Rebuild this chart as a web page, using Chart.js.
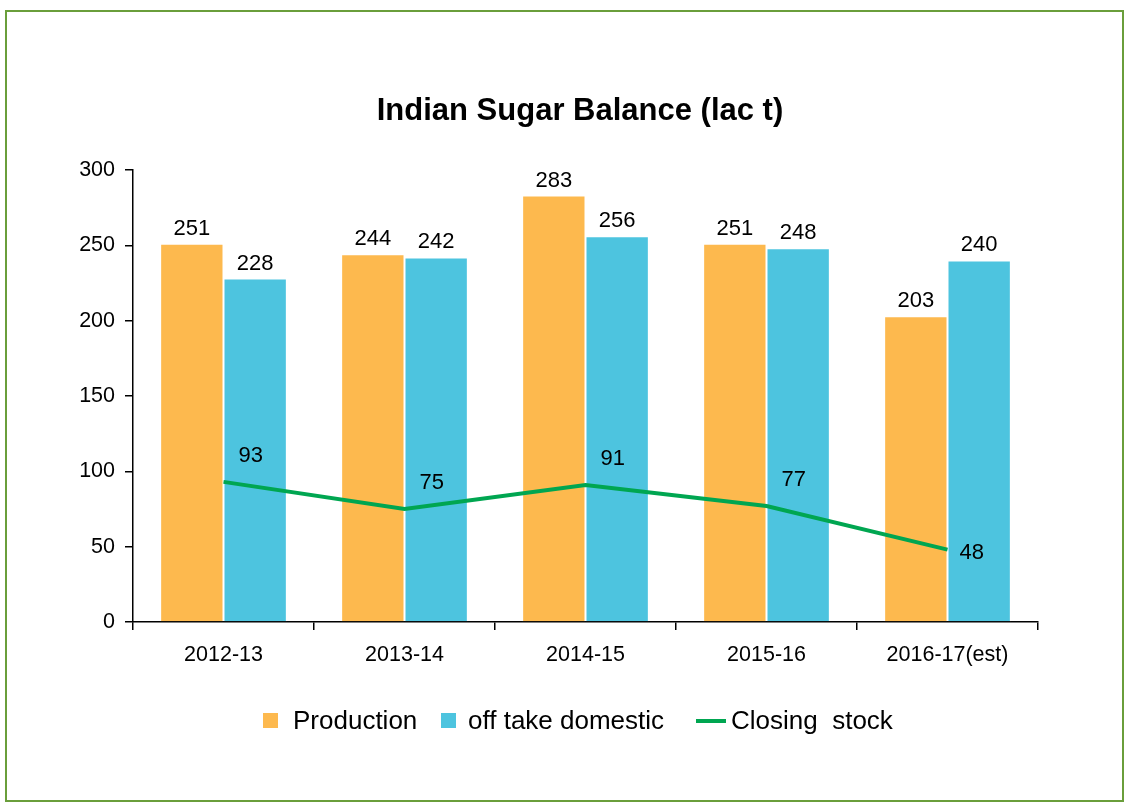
<!DOCTYPE html>
<html>
<head>
<meta charset="utf-8">
<script src="https://cdn.jsdelivr.net/npm/chart.js@4"></script>
<style>
  html, body { margin: 0; padding: 0; background: #fff; }
  #wrap { position: relative; width: 1129px; height: 807px; }
  #frame { position: absolute; left: 5px; top: 10px; width: 1115px; height: 788px; border: 2px solid #6a9e3b; pointer-events: none; }
  #legend { position: absolute; left: 0; width: 1129px; top: 702px; height: 36px; font-family: "Liberation Sans", Arial, sans-serif; font-size: 26px; color: #000; }
  #legend span.item { position: absolute; top: 0; white-space: pre; line-height: 36px; }
  #legend i { position: absolute; }
</style>
</head>
<body>
<div id="wrap">
  <canvas id="c" width="1129" height="807"></canvas>
  <div id="frame"></div>
  <div id="legend"></div>
</div>
<script>
const categories = ["2012-13", "2013-14", "2014-15", "2015-16", "2016-17(est)"];
const production = [251, 244, 283, 251, 203];
const offtake = [228, 242, 256, 248, 240];
const closing = [93, 75, 91, 77, 48];
const yTicks = [0, 50, 100, 150, 200, 250, 300];

const ORANGE = "#fdb94e", BLUE = "#4dc4df", GREEN = "#00a651";
const FONT = "'Liberation Sans', Arial, sans-serif";

// title drawn a little right of the plot centre, as in the original
const titlePlugin = {
  id: "titlePlugin",
  afterDraw(chart) {
    const ctx = chart.ctx;
    ctx.save();
    ctx.fillStyle = "#000";
    ctx.font = "bold 31px " + FONT;
    ctx.textAlign = "center";
    ctx.textBaseline = "middle";
    ctx.fillText("Indian Sugar Balance (lac t)", 580, 111);
    ctx.restore();
  }
};

// value labels above bars, beside the line points
const valueLabels = {
  id: "valueLabels",
  afterDatasetsDraw(chart) {
    const ctx = chart.ctx;
    ctx.save();
    ctx.fillStyle = "#000";
    ctx.font = "22px " + FONT;
    chart.data.datasets.forEach((ds, i) => {
      const meta = chart.getDatasetMeta(i);
      meta.data.forEach((el, j) => {
        const v = ds.data[j];
        if (ds.type === "line") {
          const last = j === ds.data.length - 1;
          ctx.textAlign = "left";
          ctx.textBaseline = "middle";
          ctx.fillText(v, el.x + (last ? 12 : 15), el.y + (last ? 3 : -26));
        } else {
          ctx.textAlign = "center";
          ctx.textBaseline = "bottom";
          ctx.fillText(v, el.x, el.y - 4);
        }
      });
    });
    ctx.restore();
  }
};

new Chart(document.getElementById("c"), {
  type: "bar",
  data: {
    labels: categories,
    datasets: [
      { type: "line", label: "Closing  stock", data: closing, borderColor: GREEN, backgroundColor: GREEN,
        borderWidth: 4, pointRadius: 0, tension: 0, order: 0 },
      { label: "Production", data: production, backgroundColor: ORANGE, borderColor: "rgba(255,255,255,0.6)", borderWidth: 1, order: 1 },
      { label: "off take domestic", data: offtake, backgroundColor: BLUE, borderColor: "rgba(255,255,255,0.6)", borderWidth: 1, order: 1 }
    ]
  },
  options: {
    responsive: false,
    animation: false,
    datasets: { bar: { categoryPercentage: 0.7, barPercentage: 1 } },
    layout: { padding: { left: 0, right: 91, top: 170, bottom: 125 } },
    plugins: {
      legend: { display: false },
      tooltip: { enabled: false },
      title: { display: false }
    },
    scales: {
      x: {
        grid: { offset: true, drawOnChartArea: false, drawTicks: true, tickLength: 8, color: "#000", lineWidth: 1.5 },
        border: { color: "#000", width: 1.5 },
        ticks: { color: "#000", font: { family: FONT, size: 21.5 }, padding: 12, maxRotation: 0 },
        afterFit: s => { s.height = 60; }
      },
      y: {
        min: 0, max: 300,
        afterBuildTicks: s => { s.ticks = yTicks.map(v => ({ value: v })); },
        grid: { drawOnChartArea: false, drawTicks: true, tickLength: 8, color: "#000", lineWidth: 1.5 },
        border: { color: "#000", width: 1.5 },
        ticks: { color: "#000", font: { family: FONT, size: 21.5 }, padding: 10 },
        afterFit: s => { s.width = 133; }
      }
    }
  },
  plugins: [valueLabels, titlePlugin]
});

// legend in the page
const legendItems = [
  { text: "Production", x: 293, mark: `<i style="left:263px;top:11px;width:15px;height:15px;background:${ORANGE}"></i>` },
  { text: "off take domestic", x: 468, mark: `<i style="left:441px;top:11px;width:15px;height:15px;background:${BLUE}"></i>` },
  { text: "Closing  stock", x: 731, mark: `<i style="left:696px;top:17px;width:30px;height:4px;background:${GREEN}"></i>` }
];
document.getElementById("legend").innerHTML = legendItems
  .map(it => `${it.mark}<span class="item" style="left:${it.x}px">${it.text}</span>`).join("");
</script>
</body>
</html>
